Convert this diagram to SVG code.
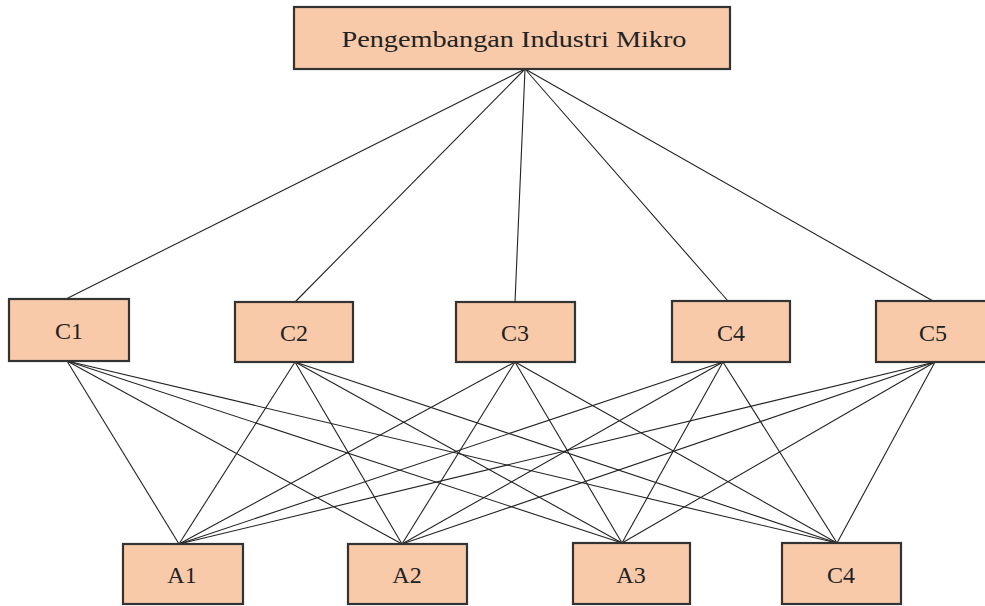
<svg xmlns="http://www.w3.org/2000/svg" width="985" height="606" viewBox="0 0 985 606">
<style>
.box{fill:#F8CAAA;stroke:#333;stroke-width:2.2}
.lbl{font-family:"Liberation Serif","DejaVu Serif",serif;font-size:24px;fill:#222;text-anchor:middle}
.edges line{stroke:#222;stroke-width:1.1}
</style>
<rect width="985" height="606" fill="#fff"/>
<g class="edges" id="connectors">
<line x1="525" y1="69" x2="66" y2="299"/>
<line x1="525" y1="69" x2="295" y2="302"/>
<line x1="525" y1="69" x2="515" y2="302"/>
<line x1="525" y1="69" x2="728" y2="301"/>
<line x1="525" y1="69" x2="933" y2="301"/>
<line x1="67" y1="361" x2="179" y2="544"/>
<line x1="67" y1="361" x2="402" y2="544"/>
<line x1="67" y1="361" x2="622" y2="543"/>
<line x1="67" y1="361" x2="837" y2="543"/>
<line x1="295" y1="362" x2="179" y2="544"/>
<line x1="295" y1="362" x2="402" y2="544"/>
<line x1="295" y1="362" x2="622" y2="543"/>
<line x1="295" y1="362" x2="837" y2="543"/>
<line x1="515" y1="362" x2="179" y2="544"/>
<line x1="515" y1="362" x2="402" y2="544"/>
<line x1="515" y1="362" x2="622" y2="543"/>
<line x1="515" y1="362" x2="837" y2="543"/>
<line x1="723" y1="362" x2="179" y2="544"/>
<line x1="723" y1="362" x2="402" y2="544"/>
<line x1="723" y1="362" x2="622" y2="543"/>
<line x1="723" y1="362" x2="837" y2="543"/>
<line x1="935" y1="362" x2="179" y2="544"/>
<line x1="935" y1="362" x2="402" y2="544"/>
<line x1="935" y1="362" x2="622" y2="543"/>
<line x1="935" y1="362" x2="837" y2="543"/>
</g>
<g id="root"><rect class="box" x="294" y="7" width="436" height="62"/><text class="lbl" x="514" y="47" textLength="345" lengthAdjust="spacingAndGlyphs">Pengembangan Industri Mikro</text></g>
<g id="c1"><rect class="box" x="9" y="299" width="120" height="62"/><text class="lbl" x="69" y="339">C1</text></g>
<g id="c2"><rect class="box" x="235" y="302" width="118" height="60"/><text class="lbl" x="294" y="341">C2</text></g>
<g id="c3"><rect class="box" x="456" y="302" width="119" height="60"/><text class="lbl" x="515" y="341">C3</text></g>
<g id="c4"><rect class="box" x="672" y="301" width="118" height="61"/><text class="lbl" x="731" y="341">C4</text></g>
<g id="c5"><rect class="box" x="876" y="301" width="112" height="61"/><text class="lbl" x="933" y="341">C5</text></g>
<g id="a1"><rect class="box" x="123" y="544" width="120" height="60"/><text class="lbl" x="182" y="583">A1</text></g>
<g id="a2"><rect class="box" x="348" y="544" width="119" height="60"/><text class="lbl" x="407" y="583">A2</text></g>
<g id="a3"><rect class="box" x="573" y="543" width="117" height="61"/><text class="lbl" x="631" y="583">A3</text></g>
<g id="a4"><rect class="box" x="782" y="543" width="119" height="61"/><text class="lbl" x="841" y="583">C4</text></g>
</svg>
